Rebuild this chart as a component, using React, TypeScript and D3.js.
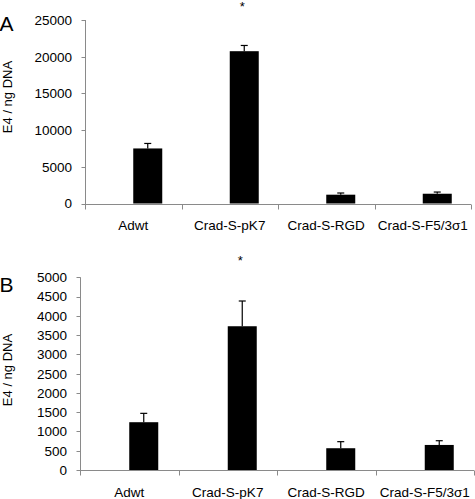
import React from "react";
import * as d3 from "d3";

const categories = ["Adwt", "Crad-S-pK7", "Crad-S-RGD", "Crad-S-F5/3σ1"];

const valuesA = [7500, 20750, 1200, 1330];
const errorsA = [680, 780, 230, 230];
const ticksA = [0, 5000, 10000, 15000, 20000, 25000];
const starA = [false, true, false, false];

const valuesB = [1240, 3730, 565, 650];
const errorsB = [230, 655, 170, 110];
const ticksB = [0, 500, 1000, 1500, 2000, 2500, 3000, 3500, 4000, 4500, 5000];
const starB = [false, true, false, false];

const yLabel = "E4 / ng DNA";
const FONT = "'Liberation Sans', Arial, sans-serif";

type PanelProps = {
  letter: string;
  values: number[];
  errors: number[];
  ticks: number[];
  stars: boolean[];
  x0: number;
  x1: number;
  yTop: number;
  yBottom: number;
  letterY: number;
  starY: number;
  yLabelY: number;
};

function Panel(p: PanelProps) {
  const max = p.ticks[p.ticks.length - 1];
  const x = d3.scaleBand<string>().domain(categories).range([p.x0, p.x1]).padding(0);
  const y = d3.scaleLinear().domain([0, max]).range([p.yBottom, p.yTop]);
  const barW = 29;
  const axisColor = "#8a8a8a";
  const ax = Math.round(p.x0) + 0.5;
  const ay = Math.round(p.yBottom) + 0.5;
  const bounds = [...categories.map((c) => x(c)!), p.x1];
  return (
    <g>
      <text x={-0.5} y={p.letterY} fontSize={21} fontFamily={FONT} fill="#000">
        {p.letter}
      </text>
      <text
        transform={`translate(11.5,${p.yLabelY}) rotate(-90)`}
        textAnchor="middle"
        fontSize={13}
        fontFamily={FONT}
        fill="#000"
      >
        {yLabel}
      </text>
      {/* y axis */}
      <line x1={ax} x2={ax} y1={y(max)} y2={p.yBottom + 5} stroke={axisColor} strokeWidth={1} />
      {p.ticks.map((t) => (
        <g key={t}>
          <line x1={ax - 4} x2={ax} y1={Math.round(y(t)) + 0.5} y2={Math.round(y(t)) + 0.5} stroke={axisColor} />
          <text
            x={p.x0 - 13}
            y={y(t)}
            dy="0.36em"
            textAnchor="end"
            fontSize={13.5}
            fontFamily={FONT}
            fill="#000"
          >
            {t}
          </text>
        </g>
      ))}
      {/* bars */}
      {categories.map((c, i) => {
        const cx = x(c)! + x.bandwidth() / 2;
        const top = y(p.values[i]);
        const errTop = y(p.values[i] + p.errors[i]);
        const mid = cx + barW / 2;
        return (
          <g key={c}>
            <rect x={cx} y={top} width={barW} height={p.yBottom - top} fill="#000" />
            <line x1={mid} x2={mid} y1={top} y2={errTop} stroke="#000" strokeWidth={1.2} />
            <line x1={mid - 3.5} x2={mid + 3.5} y1={errTop} y2={errTop} stroke="#000" strokeWidth={1.2} />
            {p.stars[i] && (
              <text x={mid - 2} y={p.starY} textAnchor="middle" fontSize={13} fontFamily={FONT} fill="#000">
                *
              </text>
            )}
            <text
              x={cx}
              y={p.yBottom + 26.5}
              textAnchor="middle"
              fontSize={13.5}
              fontFamily={FONT}
              fill="#000"
            >
              {c}
            </text>
          </g>
        );
      })}
      {/* x axis */}
      <line x1={ax} x2={p.x1} y1={ay} y2={ay} stroke={axisColor} strokeWidth={1} />
      {bounds.map((b, i) => (
        <line key={i} x1={Math.round(b) + 0.5} x2={Math.round(b) + 0.5} y1={ay} y2={ay + 5} stroke={axisColor} />
      ))}
    </g>
  );
}

export default function App() {
  return (
    <svg
      width={475}
      height={499}
      style={{ position: "absolute", left: 0, top: 0, background: "#fff" }}
    >
      <rect width={475} height={499} fill="#fff" />
      <Panel
        letter="A"
        values={valuesA}
        errors={errorsA}
        ticks={ticksA}
        stars={starA}
        x0={85}
        x1={471}
        yTop={20}
        yBottom={203.5}
        letterY={30.5}
        starY={10.5}
        yLabelY={97}
      />
      <Panel
        letter="B"
        values={valuesB}
        errors={errorsB}
        ticks={ticksB}
        stars={starB}
        x0={80}
        x1={474}
        yTop={277.3}
        yBottom={470}
        letterY={292}
        starY={265}
        yLabelY={370}
      />
    </svg>
  );
}
